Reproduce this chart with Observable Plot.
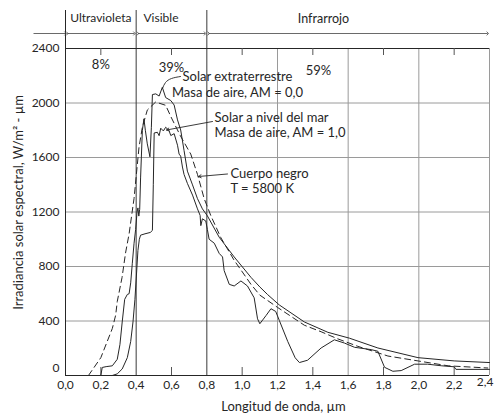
<!DOCTYPE html>
<html><head><meta charset="utf-8">
<script src="https://cdn.jsdelivr.net/npm/d3@7"></script>
<script src="https://cdn.jsdelivr.net/npm/@observablehq/plot@0.6"></script>
<style>
body{margin:0;background:#fff;}
#chart svg{display:block;}
</style>
</head><body><div id="chart"></div>
<script>
// ---- Data ----
// Solar extraterrestre (AM = 0,0)
const am0Wl  = [0.20,0.208,0.23,0.265,0.293,0.308,0.321,0.335,0.35,0.36,0.369,0.378,0.388,0.397,0.405,0.41,0.415,0.42,0.425,0.435,0.444,0.452,0.463,0.478,0.486,0.492,0.511,0.53,0.548,0.567,0.596,0.615,0.634,0.652,0.671,0.69,0.719,0.747,0.775,0.803,0.87,0.955,1.05,1.1,1.144,1.21,1.352,1.485,1.607,1.768,1.995,2.2,2.4];
const am0Val = [0,59,65,71,119,226,393,559,595,600,680,820,971,1072,1200,1230,1170,1220,1450,1798,1884,1800,1700,1605,1822,2062,2067,2051,2115,2040,2018,1985,1876,1802,1652,1500,1399,1298,1223,1172,1015,870,720,650,594,518,393,317,274,202,131,107,95];
// Solar a nivel del mar (AM = 1,0)
const am1Wl  = [0.265,0.293,0.321,0.35,0.369,0.382,0.393,0.403,0.41,0.418,0.425,0.45,0.48,0.492,0.497,0.502,0.52,0.53,0.539,0.554,0.567,0.586,0.596,0.615,0.634,0.643,0.652,0.662,0.671,0.69,0.719,0.747,0.762,0.766,0.775,0.794,0.803,0.813,0.842,0.87,0.889,0.898,0.927,0.955,0.993,1.03,1.068,1.087,1.1,1.135,1.163,1.19,1.21,1.258,1.3,1.324,1.37,1.447,1.522,1.579,1.636,1.73,1.768,1.806,1.853,1.9,1.976,2.05,2.13,2.2,2.21,2.4];
const am1Val = [0,12,48,131,250,393,559,767,918,1000,1030,1040,1050,1065,1400,1780,1785,1760,1815,1795,1822,1798,1761,1775,1690,1625,1610,1530,1476,1410,1324,1223,1175,1100,1150,1134,1072,1000,971,896,870,770,669,657,694,657,570,416,380,440,490,470,405,250,130,95,112,202,262,238,207,190,178,60,31,36,83,83,71,64,45,45];
// Cuerpo negro, T = 5800 K
const bbWl  = [0.13,0.2,0.265,0.284,0.293,0.32,0.34,0.36,0.388,0.416,0.435,0.463,0.51,0.567,0.6,0.65,0.709,0.747,0.785,0.823,0.88,0.955,1.05,1.1,1.2,1.352,1.447,1.541,1.655,1.825,1.995,2.166,2.39];
const bbVal = [0,131,345,443,543,719,900,1040,1300,1674,1822,1948,2007,1983,1890,1760,1625,1476,1298,1172,1010,845,669,590,500,369,321,269,214,143,107,71,55];

const xTicks = [0,0.2,0.4,0.6,0.8,1.0,1.2,1.4,1.6,1.8,2.0,2.2,2.4];
const yTicks = [0,400,800,1200,1600,2000,2400];
const minorX = [0.2,0.6,1.0,1.4,1.8,2.2];
const bandEdges = [0,0.4,0.8,2.4];
const bandNames = ["Ultravioleta","Visible","Infrarrojo"];
const bandPct = ["8%","39%","59%"];

// ---- Layout ----
const W = 494, H = 415, mL = 65, mR = 5, mT = 48, mB = 40;
const yPer = 2400 / (H - mT - mB);
const py = p => 2400 - (p - mT) * yPer;          // pixel row -> y value
const px = p => (p - mL) * 2.4 / (W - mL - mR);  // pixel column -> x value

const zip = (a, b) => a.map((x, i) => ({x, y: b[i]}));
const am0 = zip(am0Wl, am0Val), am1 = zip(am1Wl, am1Val), bb = zip(bbWl, bbVal);
const comma = d => d.toFixed(1).replace(".", ",");
const ink = "#262626", grid = "#9a9a9a";
const fs = 13;

const headTop = py(10), arrowY = py(33);
const segs = [
  {x1: bandEdges[0], x2: bandEdges[1]},
  {x1: bandEdges[1], x2: bandEdges[2]},
  {x1: bandEdges[2], x2: bandEdges[3]}
];

const chart = Plot.plot({
  width: W, height: H,
  marginLeft: mL, marginRight: mR, marginTop: mT, marginBottom: mB,
  style: {fontFamily: "Lato, 'Open Sans', sans-serif", fontSize: "12px", color: ink, background: "#fff"},
  x: {domain: [0, 2.4]},
  y: {domain: [0, 2400]},
  marks: [
    // grid
    Plot.ruleY(yTicks.slice(1, -1), {x1: 0, x2: 2.4, stroke: grid, strokeWidth: 1}),
    Plot.ruleX([1.2, 1.6, 2.0, 2.4], {y1: 0, y2: 2400, stroke: grid, strokeWidth: 1}),
    Plot.ruleX([0.4, 0.8], {y1: 0, y2: headTop, stroke: "#3a3a3a", strokeWidth: 1}),
    Plot.ruleX([0], {y1: 0, y2: headTop, stroke: ink, strokeWidth: 1}),
    Plot.ruleY([0, 2400], {x1: 0, x2: 2.4, stroke: ink, strokeWidth: 1}),
    // minor ticks top & bottom
    Plot.ruleX(minorX, {y1: 2400, y2: py(55), stroke: "#555"}),
    Plot.ruleX(minorX, {y1: 0, y2: py(367), stroke: "#555"}),
    // curves
    Plot.line(bb, {x: "x", y: "y", stroke: ink, strokeWidth: 1, strokeDasharray: "6,4"}),
    Plot.line(am0, {x: "x", y: "y", stroke: ink, strokeWidth: 1}),
    Plot.line(am1, {x: "x", y: "y", stroke: ink, strokeWidth: 1}),
    // header
    Plot.link([{x1: px(33), x2: 0}], {x1: "x1", x2: "x2", y1: arrowY, y2: arrowY, stroke: "#444", strokeWidth: 0.8, markerEnd: "arrow"}),
    Plot.link(segs, {x1: d => d.x1 + 0.01, x2: d => d.x2 - 0.01, y1: arrowY, y2: arrowY, stroke: "#444", strokeWidth: 0.8, markerStart: "arrow", markerEnd: "arrow"}),
    Plot.text([bandNames[0]], {x: 0.2, y: py(18), text: d => d, fill: ink, fontSize: 12}),
    Plot.text([bandNames[1]], {x: px(143), y: py(18), text: d => d, textAnchor: "start", fill: ink, fontSize: 12}),
    Plot.text([bandNames[2]], {x: px(323), y: py(18), text: d => d, fill: ink, fontSize: 12.5}),
    Plot.text([bandPct[0]], {x: 0.2, y: py(64), text: d => d, fill: ink, fontSize: fs}),
    Plot.text([bandPct[1]], {x: 0.6, y: py(67), text: d => d, fill: ink, fontSize: fs}),
    Plot.text([bandPct[2]], {x: px(318), y: py(70), text: d => d, fill: ink, fontSize: fs}),
    // annotations
    Plot.text(["Solar extraterrestre\nMasa de aire, AM = 0,0"], {x: px(237), y: py(83), text: d => d, fill: ink, lineHeight: 1.25, fontSize: fs}),
    Plot.text(["Solar a nivel del mar\nMasa de aire, AM = 1,0"], {x: px(214), y: py(124), text: d => d, textAnchor: "start", fill: ink, lineHeight: 1.2, fontSize: fs}),
    Plot.text(["Cuerpo negro\nT = 5800 K"], {x: px(230), y: py(180), text: d => d, textAnchor: "start", fill: ink, lineHeight: 1.2, fontSize: fs}),
    Plot.line([[180,76],[171,78],[165,82],[162,88]], {x: d => px(d[0]), y: d => py(d[1]), curve: "natural", stroke: ink, strokeWidth: 0.9}),
    Plot.arrow([0], {x1: px(212), y1: py(121), x2: px(166), y2: py(129.5), stroke: ink, strokeWidth: 0.9, headLength: 5}),
    Plot.arrow([0], {x1: px(227), y1: py(173.5), x2: px(198), y2: py(176), stroke: ink, strokeWidth: 0.9, headLength: 5}),
    // axes
    Plot.axisX({ticks: xTicks.slice(0, -1), tickFormat: comma, tickSize: 0, tickPadding: 5, label: null, fill: ink}),
    Plot.text([xTicks[xTicks.length - 1]], {x: d => d, y: 0, text: comma, dy: 10, dx: 4, textAnchor: "end", fill: ink, frameAnchor: "bottom"}),
    Plot.axisY({ticks: yTicks.slice(1), tickFormat: d => String(d), tickSize: 0, tickPadding: 6, label: null, fill: ink}),
    Plot.text([yTicks[0]], {x: 0, y: d => d, text: d => String(d), dx: -6, dy: -7, textAnchor: "end", fill: ink}),
    Plot.text(["Longitud de onda, µm"], {x: px(283), y: py(406), text: d => d, fill: ink, fontSize: fs}),
    Plot.text(["Irradiancia solar espectral, W/m² - µm"], {x: px(18), y: py(202), text: d => d, rotate: -90, fill: ink, fontSize: fs})
  ]
});
document.getElementById("chart").append(chart);
</script>
</body></html>
